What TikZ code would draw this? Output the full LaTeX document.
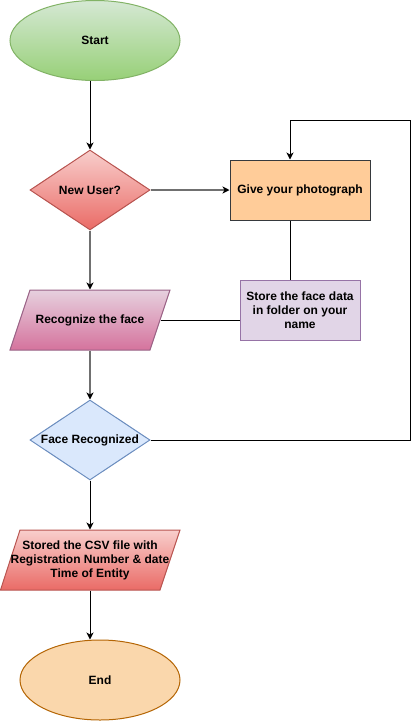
\documentclass[tikz,border=0pt]{standalone}
\usepackage{fontspec}
\setmainfont{Liberation Sans}
\usetikzlibrary{shapes.geometric,arrows.meta}
\definecolor{gline}{HTML}{707070}
\definecolor{stStroke}{HTML}{82B366}
\definecolor{stTop}{HTML}{D5E8D4}
\definecolor{stBot}{HTML}{97D077}
\definecolor{rdStroke}{HTML}{B85450}
\definecolor{rdTop}{HTML}{F8CECC}
\definecolor{rdBot}{HTML}{EA6B66}
\definecolor{phStroke}{HTML}{36393D}
\definecolor{phFill}{HTML}{FFCC99}
\definecolor{sfStroke}{HTML}{9673A6}
\definecolor{sfFill}{HTML}{E1D5E7}
\definecolor{pkStroke}{HTML}{996185}
\definecolor{pkTop}{HTML}{E6D0DE}
\definecolor{pkBot}{HTML}{D5739D}
\definecolor{blStroke}{HTML}{6C8EBF}
\definecolor{blFill}{HTML}{DAE8FC}
\definecolor{enStroke}{HTML}{B46504}
\definecolor{enFill}{HTML}{FAD7AC}
\begin{document}
\begin{tikzpicture}[x=1pt,y=-1pt,
  every node/.style={font=\bfseries\fontsize{12}{14}\selectfont, align=center, inner sep=0pt, line width=1pt},
  dia/.style={diamond, aspect=1.5, minimum width=120pt, minimum height=80pt},
  box/.style={rectangle, minimum width=#1, minimum height=60pt},
  conn/.style={-{Stealth[length=7pt,width=7pt,inset=2pt,color=black]}, line width=1pt},
  gconn/.style={conn, draw=gline, line width=1.4pt},
  plain/.style={line width=1pt}]
\useasboundingbox (0,0) rectangle (412,721);

\node[ellipse, minimum width=170pt, minimum height=80pt, draw=stStroke, top color=stTop, bottom color=stBot] (start) at (95,40.5) {Start};

\node[dia, draw=rdStroke, top color=rdTop, bottom color=rdBot] (newuser) at (90,190) {New User?};

\node[box=140pt, draw=phStroke, fill=phFill] (photo) at (300,190) {Give your photograph};

\node[box=120pt, draw=sfStroke, fill=sfFill] (store) at (300,310) {Store the face data\\in folder on your\\name};

\path[draw=pkStroke, line width=1pt, top color=pkTop, bottom color=pkBot] (30,290) -- (170,290) -- (150,350) -- (10,350) -- cycle;
\node[box=140pt] (recog) at (90,320) {Recognize the face};

\node[dia, draw=blStroke, fill=blFill] (facerec) at (90,440) {Face Recognized};

\path[draw=rdStroke, line width=1pt, top color=rdTop, bottom color=rdBot] (20,530) -- (180,530) -- (160,590) -- (0.5,590) -- cycle;
\node[box=160pt] (csv) at (90,560) {Stored the CSV file with\\Registration Number \& date\\Time of Entity};

\node[ellipse, minimum width=160pt, minimum height=80pt, draw=enStroke, fill=enFill] (end) at (100,680) {End};

\coordinate (sb) at (90,80.5);
\coordinate (tr) at (410,120);
\coordinate (tl) at (290,120);
\coordinate (br) at (410,440);

\draw[conn] (sb) -- (newuser.north);
\draw[gconn] (newuser.east) -- (photo.west);
\draw[gconn] (newuser.south) -- (recog.north);
\draw[plain] (photo.south -| tl) -- (store.north -| tl);
\draw[plain] (store.west |- recog.east) -- (recog.east);
\draw[gconn] (recog.south) -- (facerec.north);
\draw[conn] (facerec.east) -- (br) -- (tr) -- (tl) -- (photo.north -| tl);
\draw[conn] (facerec.south) -- (csv.north);
\draw[conn] (csv.south) -- (end.north -| csv.south);
\end{tikzpicture}
\end{document}
